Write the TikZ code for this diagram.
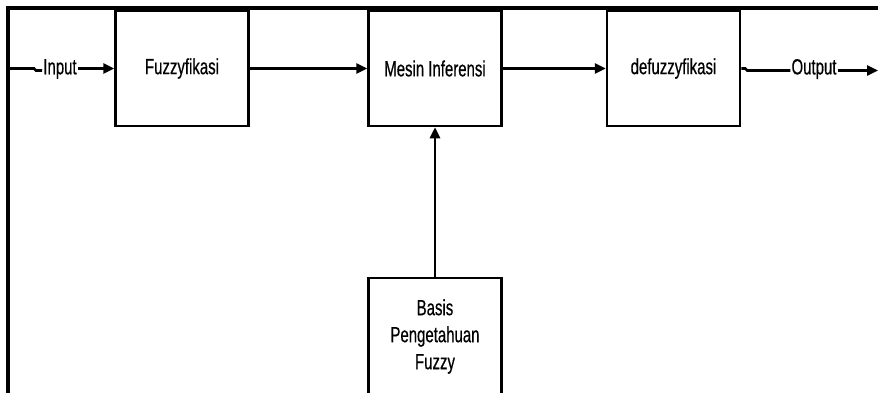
\documentclass[tikz,border=0pt]{standalone}
\usepackage{fontspec}
\setmainfont{Liberation Sans}[FakeStretch=0.68,FakeBold=0.5]
\usetikzlibrary{arrows.meta}
\begin{document}
\begin{tikzpicture}[x=1pt,y=-1pt,
  blok/.style={draw=black,line width=2.5pt,minimum width=133pt,minimum height=115pt,inner sep=0pt,align=center,font=\fontsize{22}{27}\selectfont},
  lbl/.style={inner sep=1pt,font=\fontsize{22}{24}\selectfont},
  panah/.style={line width=2.6pt,-{Triangle[length=11pt,width=10pt]}},
  garis/.style={line width=2.6pt},
  bingkai/.style={line width=3.2pt}]
\useasboundingbox (0,0) rectangle (878,392);
\fill[white] (0,0) rectangle (878,392);
% frame
\coordinate (fTL) at (8,8);
\coordinate (fTR) at (880,8);
\coordinate (fBL) at (8,395);
\draw[bingkai] (fBL) -- (fTL) -- (fTR);
% boxes
\node[blok] (fuzz) at (182,68.5) {Fuzzyfikasi};
\node[blok] (mesin) at (435,68.5) {Mesin Inferensi};
\node[blok] (defuz) at (673.5,68.5) {defuzzyfikasi};
\node[blok,minimum height=117pt] (basis) at (435,336.5) {Basis\\Pengetahuan\\Fuzzy};
% labels
\node[lbl] (inp) at (60,69) {Input};
\node[lbl] (outp) at (814,69) {Output};
\coordinate (inL) at (8,68.5);
\coordinate (outR) at (878,68.5);
% connectors
\draw[garis] (inL) -- ++(26,0) -- ++(2,2) -- (inp.west |- 0,70.5);
\draw[panah] (inp.east |- 0,68.5) -- (fuzz.west);
\draw[panah] (fuzz.east) -- (mesin.west);
\draw[panah] (mesin.east) -- (defuz.west);
\draw[garis] (defuz.east) -- ++(4,0) -- ++(2,2) -- (outp.west |- 0,70.5);
\draw[panah] (outp.east |- 0,70.5) -- (outR |- 0,70.5);
\draw[panah] (basis.north) -- (mesin.south);
\end{tikzpicture}
\end{document}
